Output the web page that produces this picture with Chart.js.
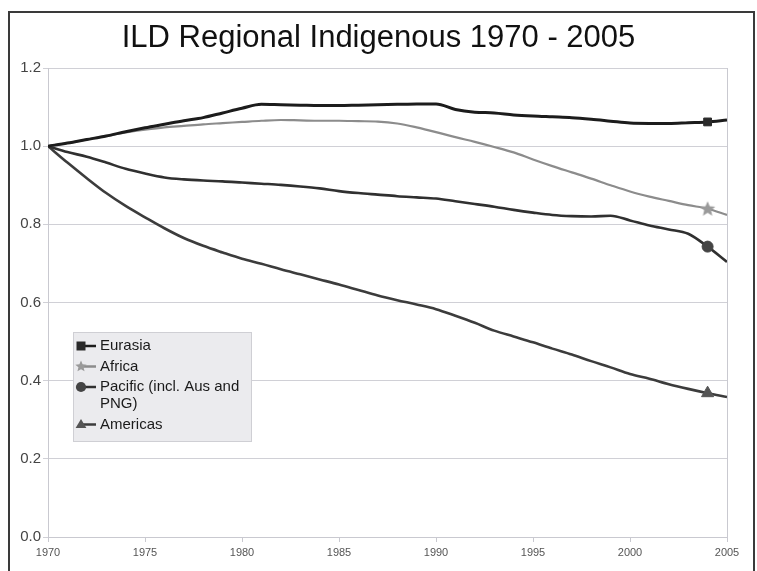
<!DOCTYPE html>
<html>
<head>
<meta charset="utf-8">
<script src="https://cdn.jsdelivr.net/npm/chart.js@4/dist/chart.umd.min.js"></script>
<style>
  html, body { margin: 0; padding: 0; background: #fff; }
  #wrap { position: relative; width: 757px; height: 571px; }
</style>
</head>
<body>
<div id="wrap"><canvas id="ildChart" width="757" height="571"></canvas></div>
<script>
// Datos (indice 1970 = 1.0)
const years = [1970,1971,1972,1973,1974,1975,1976,1977,1978,1979,
               1980,1981,1982,1983,1984,1985,1986,1987,1988,1989,
               1990,1991,1992,1993,1994,1995,1996,1997,1998,1999,
               2000,2001,2002,2003,2004,2005];

const eurasia  = [1.000,1.008,1.017,1.026,1.037,1.047,1.056,1.065,1.073,1.085,
                  1.097,1.107,1.106,1.105,1.104,1.104,1.105,1.106,1.107,1.108,
                  1.108,1.094,1.087,1.085,1.080,1.077,1.075,1.073,1.069,1.064,
                  1.059,1.058,1.058,1.060,1.062,1.067];
const africa   = [1.000,1.008,1.017,1.026,1.035,1.042,1.048,1.052,1.056,1.059,
                  1.062,1.065,1.067,1.066,1.065,1.065,1.064,1.063,1.058,1.048,
                  1.036,1.023,1.011,0.998,0.984,0.966,0.949,0.933,0.917,0.900,
                  0.884,0.871,0.860,0.849,0.840,0.824];
const pacific  = [1.000,0.985,0.973,0.958,0.942,0.930,0.920,0.915,0.912,0.910,
                  0.907,0.904,0.901,0.897,0.892,0.885,0.880,0.876,0.872,0.869,
                  0.866,0.859,0.852,0.845,0.837,0.830,0.824,0.821,0.820,0.822,
                  0.810,0.797,0.787,0.776,0.743,0.704];
const americas = [1.000,0.958,0.918,0.880,0.847,0.818,0.790,0.765,0.745,0.728,
                  0.712,0.699,0.685,0.672,0.659,0.646,0.632,0.618,0.606,0.595,
                  0.583,0.566,0.548,0.528,0.513,0.498,0.482,0.467,0.450,0.434,
                  0.417,0.405,0.391,0.379,0.368,0.358];

const seriesNames  = ['Eurasia', 'Africa', 'Pacific (incl. Aus and PNG)', 'Americas'];
const legendLines  = [['Eurasia'], ['Africa'], ['Pacific (incl. Aus and', 'PNG)'], ['Americas']];
const markerYear   = 2004;   // solo un marcador por serie
const titleText    = 'ILD Regional Indigenous 1970 - 2005';

const lineColors   = ['#1c1c1c', '#8c8c8c', '#303030', '#3c3c3c'];
const markerColors = ['#2a2a2a', '#9a9a9a', '#444444', '#555555'];
const markerStyles = ['rect', 'star', 'circle', 'triangle'];
const markerSizes  = [5.5, 7, 5.5, 7];
const lineWidths   = [3, 2.2, 2.6, 2.6];

const allValues = [eurasia, africa, pacific, americas];

function toPoints(vals) {
  return vals.map((v, i) => ({ x: years[i], y: v }));
}

function radiusArray(size) {
  return years.map(y => (y === markerYear ? size : 0));
}

// Estrella de cinco puntas rellena (el 'star' de Chart.js es un asterisco)
function starPath(ctx, x, y, r) {
  ctx.beginPath();
  for (let k = 0; k < 10; k++) {
    const rad = k % 2 === 0 ? r : r * 0.45;
    const a = -Math.PI / 2 + k * Math.PI / 5;
    const px = x + Math.cos(a) * rad, py = y + Math.sin(a) * rad;
    if (k === 0) ctx.moveTo(px, py); else ctx.lineTo(px, py);
  }
  ctx.closePath();
}

function makeStarCanvas(r, color) {
  const c = document.createElement('canvas');
  const s = Math.ceil(r * 2 + 2);
  c.width = s; c.height = s;
  const cx = c.getContext('2d');
  cx.fillStyle = color;
  starPath(cx, s / 2, s / 2 + 0.5, r);
  cx.fill();
  return c;
}

const starImg = makeStarCanvas(8, markerColors[1]);

// Marco negro alrededor de la figura
const framePlugin = {
  id: 'frame',
  beforeDraw(chart) {
    const ctx = chart.ctx;
    ctx.save();
    ctx.fillStyle = '#fff';
    ctx.fillRect(0, 0, chart.width, chart.height);
    ctx.strokeStyle = '#3a3a3a';
    ctx.lineWidth = 2;
    ctx.strokeRect(9, 12, 745, 600);
    ctx.restore();
  }
};

function drawMarker(ctx, style, x, y, r, color) {
  ctx.fillStyle = color;
  ctx.beginPath();
  if (style === 'rect') {
    ctx.rect(x - r * 0.75, y - r * 0.75, r * 1.5, r * 1.5);
    ctx.fill();
  } else if (style === 'circle') {
    ctx.arc(x, y, r * 0.85, 0, Math.PI * 2);
    ctx.fill();
  } else if (style === 'triangle') {
    ctx.moveTo(x, y - r * 0.9);
    ctx.lineTo(x + r * 0.9, y + r * 0.6);
    ctx.lineTo(x - r * 0.9, y + r * 0.6);
    ctx.closePath();
    ctx.fill();
  } else if (style === 'star') {
    starPath(ctx, x, y, r);
    ctx.fill();
  }
}

// Leyenda dentro del area del grafico
const boxLegendPlugin = {
  id: 'boxLegend',
  afterDraw(chart) {
    const ctx = chart.ctx;
    const bx = 73, by = 332, bw = 178, bh = 109;
    ctx.save();
    ctx.fillStyle = '#ebebee';
    ctx.fillRect(bx, by, bw, bh);
    ctx.strokeStyle = '#cfcfd4';
    ctx.lineWidth = 1;
    ctx.strokeRect(bx + 0.5, by + 0.5, bw, bh);

    ctx.font = '15px "Liberation Sans", Arial, sans-serif';
    ctx.textBaseline = 'middle';
    ctx.textAlign = 'left';
    let y = by + 14;
    legendLines.forEach((lines, i) => {
      ctx.strokeStyle = lineColors[i];
      ctx.lineWidth = 2.5;
      ctx.beginPath();
      ctx.moveTo(81, y);
      ctx.lineTo(96, y);
      ctx.stroke();
      drawMarker(ctx, markerStyles[i], 81, y, 6, markerColors[i]);
      ctx.fillStyle = '#1a1a1a';
      lines.forEach((t, j) => {
        ctx.fillText(t, 100, y + j * 17);
      });
      y += 20.5 + (lines.length - 1) * 17;
    });
    ctx.restore();
  }
};

const datasets = allValues.map((vals, i) => ({
  label: seriesNames[i],
  data: toPoints(vals),
  borderColor: lineColors[i],
  backgroundColor: markerColors[i],
  borderWidth: lineWidths[i],
  pointStyle: markerStyles[i] === 'star' ? starImg : markerStyles[i],
  pointRadius: radiusArray(markerSizes[i]),
  pointBorderWidth: 1,
  pointBorderColor: markerColors[i],
  pointBackgroundColor: markerColors[i],
  fill: false,
  cubicInterpolationMode: 'monotone'
}));

const fontFam = '"Liberation Sans", Arial, sans-serif';

const ctxIld = document.getElementById('ildChart').getContext('2d');
new Chart(ctxIld, {
  type: 'line',
  data: { datasets: datasets },
  options: {
    responsive: false,
    animation: false,
    layout: { padding: 0 },
    plugins: {
      legend: { display: false },
      tooltip: { enabled: false },
      title: {
        display: true,
        text: titleText,
        color: '#111',
        font: { family: fontFam, size: 31, weight: 'normal', lineHeight: 1.2 },
        padding: { top: 20, bottom: 10.8 }
      }
    },
    scales: {
      x: {
        type: 'linear',
        min: 1970,
        max: 2005,
        afterFit(scale) { scale.height = 34; },
        ticks: {
          stepSize: 5,
          padding: 4,
          color: '#555',
          font: { family: fontFam, size: 11 },
          callback: v => String(v),
          maxRotation: 0
        },
        grid: {
          color: c => (c.tick && (c.tick.value === 1970 || c.tick.value === 2005) ? '#c9c9d0' : 'rgba(0,0,0,0)'),
          tickColor: '#c9c9d0',
          tickLength: 5
        },
        border: { display: true, color: '#c9c9d0', width: 1 }
      },
      y: {
        min: 0,
        max: 1.2,
        afterFit(scale) { scale.width = 48; },
        ticks: {
          stepSize: 0.2,
          padding: 2,
          color: '#444',
          font: { family: fontFam, size: 15 },
          callback: v => v.toFixed(1)
        },
        grid: {
          color: '#d0d0d6',
          tickColor: '#d0d0d6',
          tickLength: 5
        },
        border: { display: true, color: '#c9c9d0', width: 1 }
      },
      // eje vacio a la derecha solo para reservar margen
      yPad: {
        position: 'right',
        min: 0,
        max: 1,
        afterFit(scale) { scale.width = 30; },
        ticks: { display: false },
        grid: { display: false },
        border: { display: false }
      }
    }
  },
  plugins: [framePlugin, boxLegendPlugin]
});
</script>
</body>
</html>
